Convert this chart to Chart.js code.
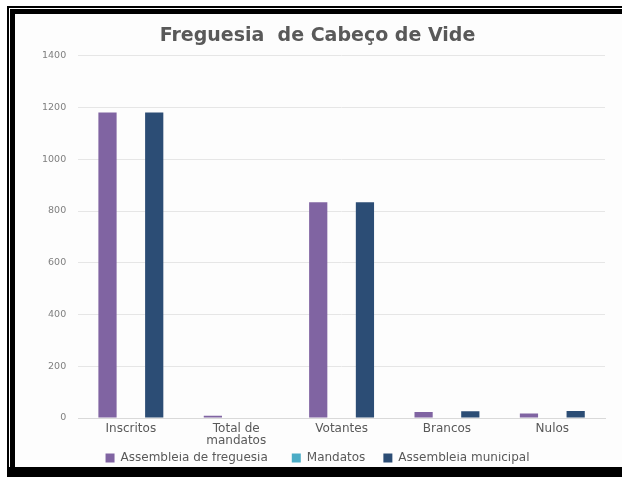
<!DOCTYPE html>
<html>
<head>
<meta charset="utf-8">
<script src="https://cdn.jsdelivr.net/npm/chart.js@4/dist/chart.umd.min.js"></script>
<style>
  body { margin:0; width:622px; height:477px; background:#fff; overflow:hidden; position:relative; }
  .frame { position:absolute; left:7px; top:6px; width:700px; height:600px; border-left:2px solid #000; border-top:2px solid #000; }
  .inner { position:absolute; left:1px; top:1px; width:700px; height:453px; border-left:5px solid #000; border-top:5px solid #000; background:#fdfdfd; }
  .bottom { position:absolute; left:7px; top:467px; width:700px; height:20px; background:#000; }
  #chart { position:absolute; left:0; top:0; }
</style>
</head>
<body>
<div class="frame"><div class="inner"><canvas id="chart" width="607" height="453"></canvas></div></div>
<div class="bottom"></div>
<script>
// data
const categories = ['Inscritos', ['Total de', 'mandatos'], 'Votantes', 'Brancos', 'Nulos'];
const assembleiaFreguesia = [1181, 9, 834, 23, 17];
const mandatos = [null, null, null, null, null];
const assembleiaMunicipal = [1181, null, 834, 26, 27];
const yTicks = [0, 200, 400, 600, 800, 1000, 1200, 1400];

const textGray = '#595959';
const font = 'DejaVu Sans';

const chartData = {
    labels: categories,
    datasets: [
        { label: 'Assembleia de freguesia', data: assembleiaFreguesia, backgroundColor: '#8064a2' },
        { label: 'Mandatos', data: mandatos, backgroundColor: '#4bacc6' },
        { label: 'Assembleia municipal', data: assembleiaMunicipal, backgroundColor: '#2c4d75' }
    ]
};

// default legend items, with extra room after the first two (legend padding is 0)
const legendGaps = ['\u2003\u2003', '\u2003\u2002', ''];
const legendItems = chart => Chart.defaults.plugins.legend.labels.generateLabels(chart)
    .map((item, i) => Object.assign(item, { text: item.text + legendGaps[i] }));

const options = {
    responsive: false,
    animation: false,
    categoryPercentage: 0.665,
    barPercentage: 0.78,
    // negative bottom padding eats the legend's fixed 10px tail
    layout: { padding: { left: 15, right: 17, top: 4, bottom: -7 } },
    plugins: {
        title: {
            display: true,
            text: 'Freguesia  de Cabeço de Vide',
            color: textGray,
            font: { family: font, size: 19, weight: 'bold' },
            padding: { top: 7, bottom: 8 }
        },
        legend: {
            position: 'bottom',
            labels: {
                color: textGray,
                font: { family: font, size: 12 },
                boxWidth: 9,
                boxHeight: 9,
                padding: 0,
                generateLabels: legendItems
            }
        },
        tooltip: { enabled: false }
    },
    scales: {
        x: {
            grid: { display: false, drawTicks: false },
            border: { color: '#d9d9d9' },
            ticks: { color: textGray, font: { family: font, size: 12, lineHeight: 1.0 }, maxRotation: 0, padding: 5 }
        },
        y: {
            min: 0,
            max: 1400,
            afterBuildTicks: axis => { axis.ticks = yTicks.map(v => ({ value: v })); },
            grid: { color: '#e6e6e6', drawTicks: false },
            border: { display: false },
            ticks: { color: '#7f7f7f', font: { family: font, size: 9.5 }, padding: 12, callback: v => String(v) }
        }
    }
};

const ctx = document.getElementById('chart').getContext('2d');
const myChart = new Chart(ctx, { type: 'bar', data: chartData, options: options });
</script>
</body>
</html>
